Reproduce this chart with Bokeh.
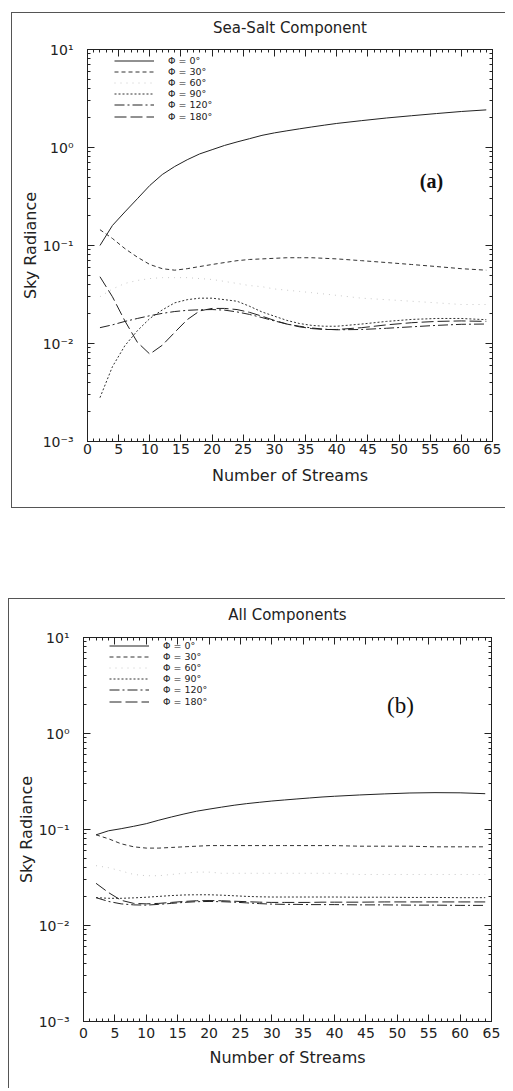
from bokeh.plotting import figure
from bokeh.models import (LogAxis, LinearAxis, FixedTicker, CustomJSTickFormatter, Legend,
                          LegendItem, Label, Spacer, Range1d)
from bokeh.layouts import column, row
from bokeh.embed import file_html
from bokeh.resources import INLINE

# ---------------- data ----------------
STREAMS = [2, 4, 6, 8, 10, 12, 14, 16, 18, 20, 22, 24, 26, 28, 30, 32, 34, 36, 38, 40, 44, 48, 52, 56, 60, 64]
PHI_LABELS = ["Φ = 0°", "Φ = 30°", "Φ = 60°", "Φ = 90°", "Φ = 120°", "Φ = 180°"]
X_TICKS = [0, 5, 10, 15, 20, 25, 30, 35, 40, 45, 50, 55, 60, 65]
Y_TICKS = [1e-3, 1e-2, 1e-1, 1, 10]
Y_TICK_LABELS = ["10⁻³", "10⁻²", "10⁻¹", "10⁰", "10¹"]

# (a) Sea-Salt Component
SEA_0 = [0.10, 0.16, 0.22, 0.30, 0.41, 0.53, 0.64, 0.75, 0.86, 0.95, 1.05, 1.14, 1.23, 1.33, 1.41, 1.48,
         1.55, 1.62, 1.69, 1.76, 1.88, 2.00, 2.11, 2.22, 2.33, 2.42]
SEA_30 = [0.145, 0.118, 0.093, 0.076, 0.064, 0.058, 0.056, 0.058, 0.061, 0.064, 0.067, 0.070, 0.072, 0.073,
          0.074, 0.075, 0.075, 0.075, 0.074, 0.073, 0.070, 0.067, 0.064, 0.061, 0.058, 0.056]
SEA_60 = [0.030, 0.036, 0.041, 0.044, 0.046, 0.047, 0.047, 0.047, 0.046, 0.045, 0.043, 0.041, 0.039, 0.038,
          0.036, 0.035, 0.034, 0.033, 0.032, 0.031, 0.029, 0.028, 0.027, 0.026, 0.025, 0.025]
SEA_90 = [0.0028, 0.0058, 0.0095, 0.0135, 0.018, 0.022, 0.026, 0.028, 0.029, 0.029, 0.028, 0.027, 0.024,
          0.021, 0.019, 0.0172, 0.016, 0.0153, 0.015, 0.015, 0.0158, 0.0168, 0.0176, 0.018, 0.018, 0.0175]
SEA_120 = [0.0145, 0.0155, 0.0168, 0.018, 0.0192, 0.0203, 0.0212, 0.0218, 0.0221, 0.0222, 0.0219, 0.021,
           0.0198, 0.0184, 0.0170, 0.0158, 0.0150, 0.0144, 0.0140, 0.0138, 0.0139, 0.0143, 0.0148, 0.0153,
           0.0157, 0.0158]
SEA_180 = [0.048, 0.030, 0.017, 0.0103, 0.0078, 0.0096, 0.0130, 0.0175, 0.0215, 0.0228, 0.0228, 0.0222,
           0.0208, 0.0190, 0.0172, 0.0158, 0.0148, 0.0142, 0.0139, 0.0139, 0.0145, 0.0155, 0.0163, 0.0168,
           0.0170, 0.0168]

# (b) All Components
ALL_0 = [0.088, 0.097, 0.102, 0.108, 0.115, 0.125, 0.135, 0.145, 0.155, 0.163, 0.171, 0.179, 0.186, 0.192,
         0.198, 0.203, 0.208, 0.213, 0.218, 0.222, 0.229, 0.235, 0.240, 0.242, 0.241, 0.236]
ALL_30 = [0.088, 0.080, 0.071, 0.066, 0.064, 0.064, 0.065, 0.066, 0.067, 0.068, 0.068, 0.068, 0.068, 0.068,
          0.068, 0.068, 0.068, 0.068, 0.068, 0.068, 0.067, 0.067, 0.067, 0.066, 0.066, 0.066]
ALL_60 = [0.042, 0.040, 0.037, 0.034, 0.033, 0.033, 0.034, 0.035, 0.036, 0.036, 0.035, 0.035, 0.035, 0.035,
          0.035, 0.035, 0.035, 0.035, 0.035, 0.035, 0.034, 0.034, 0.034, 0.034, 0.034, 0.034]
ALL_90 = [0.0195, 0.0192, 0.0192, 0.0194, 0.0197, 0.0201, 0.0205, 0.0208, 0.0209, 0.0209, 0.0207, 0.0204,
          0.0201, 0.0199, 0.0198, 0.0198, 0.0198, 0.0198, 0.0198, 0.0198, 0.0197, 0.0197, 0.0196, 0.0196,
          0.0195, 0.0195]
ALL_120 = [0.0195, 0.0178, 0.0168, 0.0164, 0.0163, 0.0166, 0.0170, 0.0174, 0.0177, 0.0178, 0.0177, 0.0175,
           0.0172, 0.0169, 0.0167, 0.0166, 0.0166, 0.0165, 0.0165, 0.0165, 0.0164, 0.0164, 0.0163, 0.0163,
           0.0162, 0.0162]
ALL_180 = [0.0275, 0.022, 0.0183, 0.0170, 0.0168, 0.0170, 0.0174, 0.0178, 0.0181, 0.0182, 0.0181, 0.0179,
           0.0177, 0.0175, 0.0174, 0.0174, 0.0174, 0.0174, 0.0175, 0.0175, 0.0175, 0.0176, 0.0176, 0.0176,
           0.0176, 0.0176]

# ---------------- styles ----------------
INK = "#222222"
LINE_STYLES = [
    dict(line_color=INK, line_dash="solid", line_width=1.0),
    dict(line_color="#333333", line_dash="4 3", line_width=1.0),
    dict(line_color="#c8c8c8", line_dash="1 5", line_width=1.0),
    dict(line_color="#333333", line_dash="2 2", line_width=1.0),
    dict(line_color=INK, line_dash="10 3 2 3", line_width=1.0),
    dict(line_color=INK, line_dash="12 4", line_width=1.0),
]
FONT = "DejaVu Sans"


def minor_log():
    out = []
    for d in [1e-3, 1e-2, 1e-1, 1]:
        for k in range(2, 10):
            out.append(k * d)
    return out


def style_axis(ax, labels=True):
    ax.axis_line_color = INK
    ax.major_tick_line_color = INK
    ax.minor_tick_line_color = INK
    ax.major_tick_in = 7
    ax.major_tick_out = 0
    ax.minor_tick_in = 3
    ax.minor_tick_out = 0
    ax.major_label_text_font = FONT
    ax.major_label_text_color = INK
    ax.major_label_text_font_size = "14px"
    ax.axis_label_text_font = FONT
    ax.axis_label_text_font_style = "normal"
    ax.axis_label_text_color = INK
    if not labels:
        ax.formatter = CustomJSTickFormatter(code="return '';")
        ax.major_label_standoff = 0
        ax.major_label_text_font_size = "1px"


def make_panel(title, series, tag, tag_style, tag_size, tag_x, tag_y,
               w, h, bl, br, bt, bb, leg_x, leg_top, leg_step, box_css, x_std, xl_std, t_std):
    p = figure(width=w, height=h, x_range=Range1d(0, 65), y_range=Range1d(1e-3, 10),
               y_axis_type="log", output_backend="svg", toolbar_location=None, title=None,
               min_border_left=bl, min_border_right=br, min_border_top=bt, min_border_bottom=bb)
    fh = h - bt - bb
    p.grid.visible = False
    p.outline_line_color = INK
    p.background_fill_color = "white"
    p.border_fill_color = "white"
    p.styles = box_css

    xt = FixedTicker(ticks=X_TICKS, minor_ticks=list(range(0, 66)))
    yt = FixedTicker(ticks=Y_TICKS, minor_ticks=minor_log())

    xa = p.xaxis[0]
    xa.ticker = xt
    xa.axis_label = "Number of Streams"
    style_axis(xa)
    xa.axis_label_text_font_size = "16px"
    xa.major_label_standoff = x_std
    xa.axis_label_standoff = xl_std

    ya = p.yaxis[0]
    ya.ticker = yt
    ya.formatter = CustomJSTickFormatter(args=dict(labels=Y_TICK_LABELS),
                                         code="return labels[Math.round(Math.log10(tick)) + 3];")
    ya.axis_label = "Sky Radiance"
    style_axis(ya)
    ya.axis_label_text_font_size = "16px"
    ya.major_label_standoff = 14
    ya.axis_label_standoff = 0

    # top axis (mirrored ticks) carries the panel title
    top = LinearAxis(ticker=xt)
    style_axis(top, labels=False)
    top.axis_label = title
    top.axis_label_text_font_size = "15px"
    top.axis_label_standoff = t_std
    p.add_layout(top, "above")
    right = LogAxis(ticker=yt)
    style_axis(right, labels=False)
    p.add_layout(right, "right")

    box_h = 11
    for i, (lab, ys, st) in enumerate(zip(PHI_LABELS, series, LINE_STYLES)):
        r = p.line(STREAMS, ys, **st)
        centre = leg_top + i * leg_step
        legend = Legend(items=[LegendItem(label=lab, renderers=[r])],
                        location=(leg_x, fh - centre - box_h / 2),
                        orientation="vertical", glyph_width=40, glyph_height=box_h,
                        label_height=box_h, label_standoff=14, spacing=0, padding=0, margin=0,
                        border_line_color=None, background_fill_alpha=0,
                        label_text_font=FONT, label_text_font_size="9.5px", label_text_color=INK)
        p.add_layout(legend)

    p.add_layout(Label(x=tag_x, y=tag_y, text=tag, text_font="Liberation Serif",
                       text_font_style=tag_style, text_font_size=tag_size, text_color="#111111",
                       text_align="center", text_baseline="middle"))
    return p


box_a = {"border-left": "1px solid #555", "border-top": "1px solid #555",
         "border-bottom": "1px solid #555", "box-sizing": "border-box"}
box_b = {"border-left": "1px solid #555", "border-top": "1px solid #555", "box-sizing": "border-box"}

p1 = make_panel("Sea-Salt Component",
                [SEA_0, SEA_30, SEA_60, SEA_90, SEA_120, SEA_180],
                "(a)", "bold", "20px", 55.2, 0.45,
                494, 496, 75, 14, 36, 68, 27, 11, 11.2, box_a, 2, 9, 13)
p2 = make_panel("All Components",
                [ALL_0, ALL_30, ALL_60, ALL_90, ALL_120, ALL_180],
                "(b)", "normal", "23px", 50.5, 1.96,
                497, 490, 74, 15, 38, 68, 26, 8, 11.2, box_b, 6, 7, 14)

layout = column(Spacer(width=1, height=12), row(Spacer(width=11, height=1), p1),
                Spacer(width=1, height=90), row(Spacer(width=8, height=1), p2))

open("out.html", "w").write(file_html(layout, INLINE))
